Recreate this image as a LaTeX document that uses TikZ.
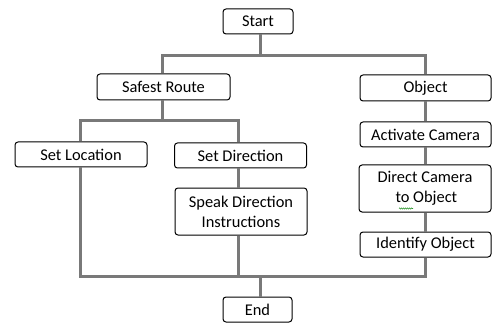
\documentclass[tikz,border=0pt]{standalone}
\usepackage{fontspec}
\setmainfont{Carlito}
\usetikzlibrary{decorations.pathmorphing}
\begin{document}
\begin{tikzpicture}[x=1pt,y=-1pt,
  box/.style={draw=black,line width=1pt,rounded corners=3pt,fill=white,inner sep=0pt,align=center,
    font=\fontsize{16.4}{20}\selectfont},
  conn/.style={draw=gray!95!black,line width=3pt}]
\useasboundingbox (0,0) rectangle (492,323);
\node[box,minimum width=70,minimum height=25] (start) at (258,21.5) {Start};
\node[box,minimum width=133,minimum height=26] (safe) at (163.5,87) {Safest Route};
\node[box,minimum width=131,minimum height=26] (obj) at (425.5,88) {Object};
\node[box,minimum width=132,minimum height=25] (loc) at (81,154.5) {Set Location};
\node[box,minimum width=132,minimum height=25] (dir) at (240.5,155.5) {Set Direction};
\node[box,minimum width=132,minimum height=47] (speak) at (241,211.5) {Speak Direction\\Instructions};
\node[box,minimum width=131,minimum height=25] (act) at (425.5,134.5) {Activate Camera};
\node[box,minimum width=132,minimum height=47] (direct) at (425,188.5) {Direct Camera\\\,to Object};
\node[box,minimum width=131,minimum height=25] (ident) at (425.5,244.5) {Identify Object};
\node[box,minimum width=69,minimum height=25] (end) at (257.5,309.5) {End};
% coordinates
\coordinate (t1) at (260,56);
\coordinate (tl) at (162,56);
\coordinate (tr) at (425,56);
\coordinate (m1) at (162,121);
\coordinate (ml) at (80,121);
\coordinate (mr) at (238,121);
\coordinate (bl) at (80,276);
\coordinate (bm) at (238,276);
\coordinate (br) at (425,276);
\coordinate (be) at (260,276);
\begin{scope}[on background layer/.try]
\end{scope}
\draw[conn] (start.south -| t1) -- (t1);
\draw[conn,line cap=rect] (tl) -- (tr);
\draw[conn] (tl) -- (safe.north -| tl);
\draw[conn] (tr) -- (obj.north -| tr);
\draw[conn] (safe.south -| m1) -- (m1);
\draw[conn,line cap=rect] (ml) -- (mr);
\draw[conn] (ml) -- (loc.north -| ml);
\draw[conn] (mr) -- (dir.north -| mr);
\draw[conn] (dir.south -| mr) -- (speak.north -| mr);
\draw[conn] (obj.south -| tr) -- (act.north -| tr);
\draw[conn] (act.south -| tr) -- (direct.north -| tr);
\draw[conn] (direct.south -| tr) -- (ident.north -| tr);
\draw[conn] (loc.south -| bl) -- (bl);
\draw[conn] (speak.south -| bm) -- (bm);
\draw[conn] (ident.south -| br) -- (br);
\draw[conn,line cap=rect] (bl) -- (br);
\draw[conn] (be) -- (end.north -| be);
\draw[green!50!black,line width=0.5pt,decorate,decoration={snake,amplitude=0.6pt,segment length=2pt}] (399,208.5) -- (413,208.5);
\end{tikzpicture}
\end{document}
